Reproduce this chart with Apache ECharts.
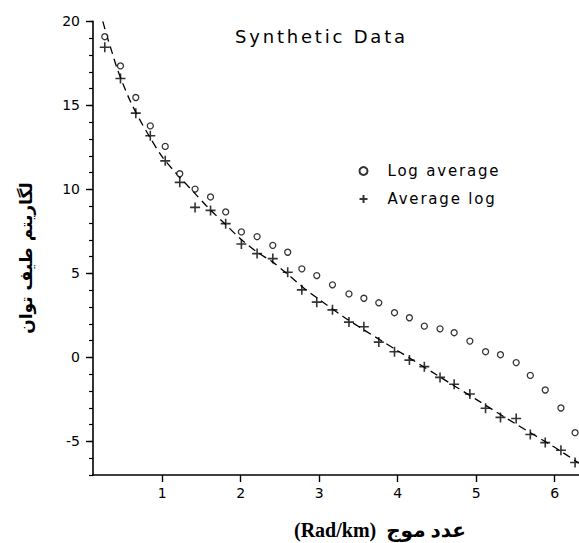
<!DOCTYPE html>
<html>
<head>
<meta charset="utf-8">
<script src="https://cdn.jsdelivr.net/npm/echarts@6/dist/echarts.min.js"></script>
<style>
  html, body { margin: 0; padding: 0; background: #fff; }
  #chart { width: 579px; height: 543px; }
  #chart text[style*="18px"] { letter-spacing: 2.8px; }
  #chart text[style*="15px"] { letter-spacing: 1.8px; }
</style>
</head>
<body>
<div id="chart"></div>
<script>
// Wavenumber positions (Rad/km) shared by both point sets
const waveNumbers = [0.27, 0.47, 0.665, 0.85, 1.04, 1.225, 1.42, 1.617, 1.81, 2.01, 2.21, 2.41,
  2.60, 2.78, 2.97, 3.17, 3.38, 3.57, 3.76, 3.96, 4.15, 4.34, 4.54, 4.72, 4.92, 5.12, 5.31, 5.51,
  5.69, 5.88, 6.08, 6.26];
// "Log average" (open circles)
const logAverage = [19.09, 17.35, 15.47, 13.78, 12.56, 10.93, 10.02, 9.55, 8.66, 7.47, 7.19, 6.67,
  6.26, 5.27, 4.87, 4.32, 3.78, 3.52, 3.25, 2.66, 2.36, 1.86, 1.70, 1.47, 0.97, 0.34, 0.16, -0.31,
  -1.07, -1.94, -3.01, -4.48];
// "Average log" (plus markers)
const averageLog = [18.46, 16.6, 14.54, 13.19, 11.7, 10.42, 8.93, 8.75, 7.96, 6.75, 6.18, 5.88,
  5.07, 4.02, 3.29, 2.83, 2.10, 1.82, 0.91, 0.34, -0.16, -0.55, -1.19, -1.60, -2.18, -3.03, -3.57,
  -3.64, -4.59, -5.07, -5.53, -6.26];
// Dashed reference curve
const curveX = [0.245, 0.3, 0.36, 0.42, 0.5, 0.6, 0.71, 0.82, 1.0, 1.2, 1.4, 1.6, 1.8, 2.0, 2.2,
  2.4, 2.6, 2.8, 3.0, 3.3, 3.6, 4.0, 4.5, 5.0, 5.5, 6.0, 6.31];
const curveY = [20.0, 19.1, 18.2, 17.3, 16.3, 15.2, 14.2, 13.3, 11.95, 10.85, 9.85, 8.85, 7.95,
  7.05, 6.3, 5.7, 4.95, 4.15, 3.45, 2.45, 1.55, 0.4, -1.05, -2.5, -3.95, -5.35, -6.3];
// Axis ranges and ticks
const xRange = [0.12, 6.31];
const xTicks = [1, 2, 3, 4, 5, 6];
const yRange = [-7, 20];
const yMajorTicks = [-5, 0, 5, 10, 15, 20];
const yMinorStep = 1;

const titleText = 'Synthetic Data';
const seriesNames = ['Log average', 'Average log'];
const xTitle = '(Rad/km)  عدد موج';
const yTitle = 'لگاریتم طیف توان';

const sansFont = 'DejaVu Sans';
const plusPath = 'path://M0,5L10,5M5,0L5,10';

const chart = echarts.init(document.getElementById('chart'), null, { renderer: 'svg' });

const zip = (xs, ys) => xs.map((x, i) => [x, ys[i]]);

chart.setOption({
  animation: false,
  backgroundColor: '#fff',
  title: {
    text: titleText,
    left: 235,
    top: 27,
    padding: 0,
    textStyle: { fontFamily: sansFont, fontSize: 18, fontWeight: 'normal', color: '#000' }
  },
  legend: {
    orient: 'vertical',
    left: 357,
    top: 163,
    itemWidth: 8,
    itemHeight: 8,
    itemGap: 12,
    padding: 0,
    data: seriesNames,
    textStyle: { fontFamily: sansFont, fontSize: 15, color: '#000', padding: [0, 0, 0, 15], lineHeight: 16 }
  },
  grid: { left: 93, right: 0, top: 21.4, bottom: 68, containLabel: false },
  xAxis: {
    type: 'value',
    min: xRange[0],
    max: xRange[1],
    splitLine: { show: false },
    axisLine: { show: true, onZero: false, lineStyle: { color: '#000', width: 1.6 } },
    axisTick: { show: true, customValues: xTicks, length: 7, lineStyle: { color: '#000', width: 1.4 } },
    axisLabel: { customValues: xTicks, margin: 11, fontFamily: sansFont, fontSize: 14, color: '#000' }
  },
  yAxis: [
    {
      type: 'value',
      min: yRange[0],
      max: yRange[1],
      interval: yMinorStep,
      position: 'left',
      splitLine: { show: false },
      axisLine: { show: true, onZero: false, lineStyle: { color: '#000', width: 1.6 } },
      axisTick: { show: true, length: 4, lineStyle: { color: '#000', width: 1.2 } },
      axisLabel: { show: false }
    },
    {
      type: 'value',
      min: yRange[0],
      max: yRange[1],
      position: 'left',
      offset: 0,
      splitLine: { show: false },
      axisLine: { show: false, onZero: false },
      axisTick: { show: true, customValues: yMajorTicks, length: 7, lineStyle: { color: '#000', width: 1.4 } },
      axisLabel: { customValues: yMajorTicks, margin: 13, fontFamily: sansFont, fontSize: 14, color: '#000' }
    }
  ],
  graphic: [
    {
      type: 'text',
      x: 26,
      y: 258,
      rotation: Math.PI / 2,
      style: {
        text: yTitle,
        font: 'bold 17px "DejaVu Sans"',
        fill: '#000',
        textAlign: 'center',
        textVerticalAlign: 'middle'
      }
    },
    {
      type: 'text',
      x: 380,
      y: 530,
      style: {
        text: xTitle,
        font: 'bold 20px "Liberation Serif", "DejaVu Sans"',
        fill: '#000',
        textAlign: 'center',
        textVerticalAlign: 'middle'
      }
    }
  ],
  series: [
    {
      name: 'curve',
      type: 'line',
      data: zip(curveX, curveY),
      showSymbol: false,
      smooth: 0.3,
      lineStyle: { color: '#000', width: 1.3, type: [8, 5] },
      silent: true,
      z: 1
    },
    {
      name: seriesNames[0],
      type: 'scatter',
      data: zip(waveNumbers, logAverage),
      symbol: 'circle',
      symbolSize: 6,
      itemStyle: { color: '#fff', borderColor: '#000', borderWidth: 1.3 },
      z: 3
    },
    {
      name: seriesNames[1],
      type: 'scatter',
      data: zip(waveNumbers, averageLog),
      symbol: plusPath,
      symbolSize: 10,
      itemStyle: { color: 'none', borderColor: '#000', borderWidth: 1.6 },
      z: 3
    }
  ]
});
</script>
</body>
</html>
